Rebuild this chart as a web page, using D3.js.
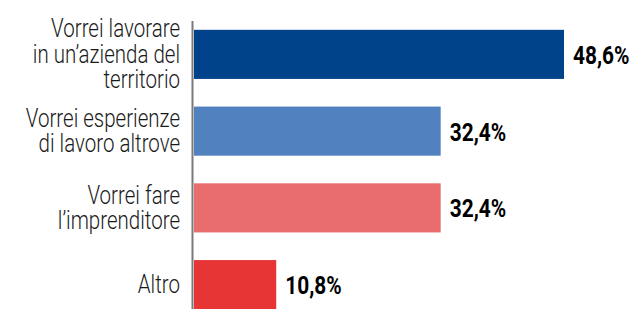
<!DOCTYPE html>
<html>
<head>
<meta charset="utf-8">
<script src="https://cdn.jsdelivr.net/npm/d3@7"></script>
<style>
  body { margin: 0; background: #fff; }
  svg { display: block; }
</style>
</head>
<body>
<div id="chart"></div>
<script>
// Data
var categories = [
    "Vorrei lavorare|in un\u2019azienda del|territorio",
    "Vorrei esperienze|di lavoro altrove",
    "Vorrei fare|l\u2019imprenditore",
    "Altro"
];
var values = [48.6, 32.4, 32.4, 10.8];
var valueLabels = ["48,6%", "32,4%", "32,4%", "10,8%"];
var colors = ["#00438a", "#5181be", "#e96d6e", "#e73536"];

var width = 633, height = 309;
var squeeze = 0.82; // fake a condensed face

var svg = d3.select("#chart")
    .append("svg")
    .attr("width", width)
    .attr("height", height);

var x = d3.scaleLinear()
    .domain([0, d3.max(values)])
    .range([194, 564]);

var y = d3.scaleBand()
    .domain(categories)
    .range([16, 323])
    .paddingInner(0.36)
    .paddingOuter(0.18);

// Bars
svg.selectAll("rect.bar")
    .data(values)
    .enter()
    .append("rect")
    .attr("class", "bar")
    .attr("x", x(0))
    .attr("y", function(d, i) { return y(categories[i]); })
    .attr("width", function(d) { return x(d) - x(0); })
    .attr("height", y.bandwidth())
    .style("fill", function(d, i) { return colors[i]; });

// Vertical axis line
svg.append("line")
    .attr("x1", 192.5)
    .attr("x2", 192.5)
    .attr("y1", 21)
    .attr("y2", height)
    .style("stroke", "#7a7a7a")
    .style("stroke-width", 2);

// Category labels: one text per category, lines as tspans
var lineH = 25.5;
categories.forEach(function(cat) {
    var lines = cat.split("|");
    var cy = y(cat) + y.bandwidth() / 2;
    var top = cy - (lines.length - 1) / 2 * lineH + 8.5;
    var t = svg.append("text")
        .attr("transform", "translate(180," + top + ") scale(" + squeeze + ",1)")
        .style("text-anchor", "end")
        .style("font-family", "Roboto, 'Noto Sans', sans-serif")
        .style("font-weight", "300")
        .style("font-size", "25px")
        .style("fill", "#1a1a1a");
    lines.forEach(function(line, j) {
        t.append("tspan")
            .attr("x", 0)
            .attr("y", j * lineH)
            .text(line);
    });
});

// Value labels
svg.selectAll("text.val")
    .data(values)
    .enter()
    .append("text")
    .attr("class", "val")
    .attr("transform", function(d, i) {
        var cy = y(categories[i]) + y.bandwidth() / 2 + 9.5;
        return "translate(" + (x(d) + 9) + "," + cy + ") scale(" + squeeze + ",1)";
    })
    .style("font-family", "Roboto, 'Noto Sans', sans-serif")
    .style("font-weight", "bold")
    .style("font-size", "25.5px")
    .style("fill", "#000")
    .text(function(d, i) { return valueLabels[i]; });
</script>
</body>
</html>
